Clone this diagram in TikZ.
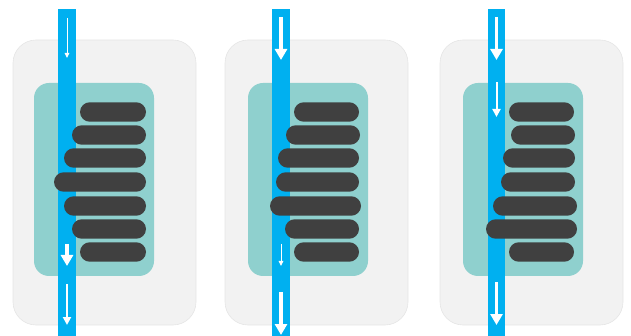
\documentclass[tikz,border=0pt]{standalone}
\usetikzlibrary{arrows.meta}
\definecolor{panelgray}{RGB}{242,242,242}
\definecolor{panelline}{RGB}{229,229,229}
\definecolor{tealbox}{RGB}{143,208,206}
\definecolor{flowblue}{RGB}{0,176,240}
\definecolor{bardark}{RGB}{64,64,64}

\tikzset{
  panel/.style={fill=panelgray, draw=panelline, line width=0.6pt, rounded corners=23pt},
  core/.style={fill=tealbox, rounded corners=15pt},
  strip/.style={fill=flowblue},
  pill/.style={fill=bardark, rounded corners=9.7pt},
  thinflow/.style={draw=white, line width=1pt, -{Triangle[length=5pt,width=4.5pt]}},
  midflow/.style={draw=white, line width=2pt, -{Triangle[length=8pt,width=8pt]}},
  thickflow/.style={draw=white, line width=3.5pt, -{Triangle[length=11pt,width=12pt]}},
}

\begin{document}
\begin{tikzpicture}[x=1pt,y=-1pt]
  \useasboundingbox (0,0) rectangle (631,336);

  % panel 1
  \draw[panel] (13,40) rectangle (196,325);
  \fill[core] (34,83) rectangle (154,276);
  \fill[strip] (58,9) rectangle (76,336);
  \foreach \l/\r/\y in {80/146/112, 72/146/135, 64/146/158, 54/146/182, 64/146/206, 72/146/229, 80/146/252}
    \fill[pill] (\l,\y-9.7) rectangle (\r,\y+9.7);
  \draw[thinflow] (67,18) -- (67,58);
  \draw[thickflow] (67,244) -- (67,266);
  \draw[midflow] (67,284) -- (67,325);

  % panel 2
  \draw[panel] (225,40) rectangle (408,325);
  \fill[core] (248,83) rectangle (368,276);
  \fill[strip] (272,9) rectangle (290,336);
  \foreach \l/\r/\y in {294/359/112, 286/360/135, 278/359/158, 276/359/182, 270/361/206, 285/359/229, 294/359/252}
    \fill[pill] (\l,\y-9.7) rectangle (\r,\y+9.7);
  \draw[thickflow] (281,17) -- (281,60);
  \draw[thinflow] (281,244) -- (281,266);
  \draw[thickflow] (281,292) -- (281,335);

  % panel 3
  \draw[panel] (440,40) rectangle (623,325);
  \fill[core] (463,83) rectangle (583,276);
  \fill[strip] (487.5,9) rectangle (505,336);
  \foreach \l/\r/\y in {509/574/112, 511/575/135, 503/575/158, 501/575/182, 493/577/206, 486/577/229, 509/574/252}
    \fill[pill] (\l,\y-9.7) rectangle (\r,\y+9.7);
  \draw[thickflow] (496.5,17) -- (496.5,60);
  \draw[midflow] (496.5,82) -- (496.5,117);
  \draw[thickflow] (496.5,282) -- (496.5,325);
\end{tikzpicture}
\end{document}
